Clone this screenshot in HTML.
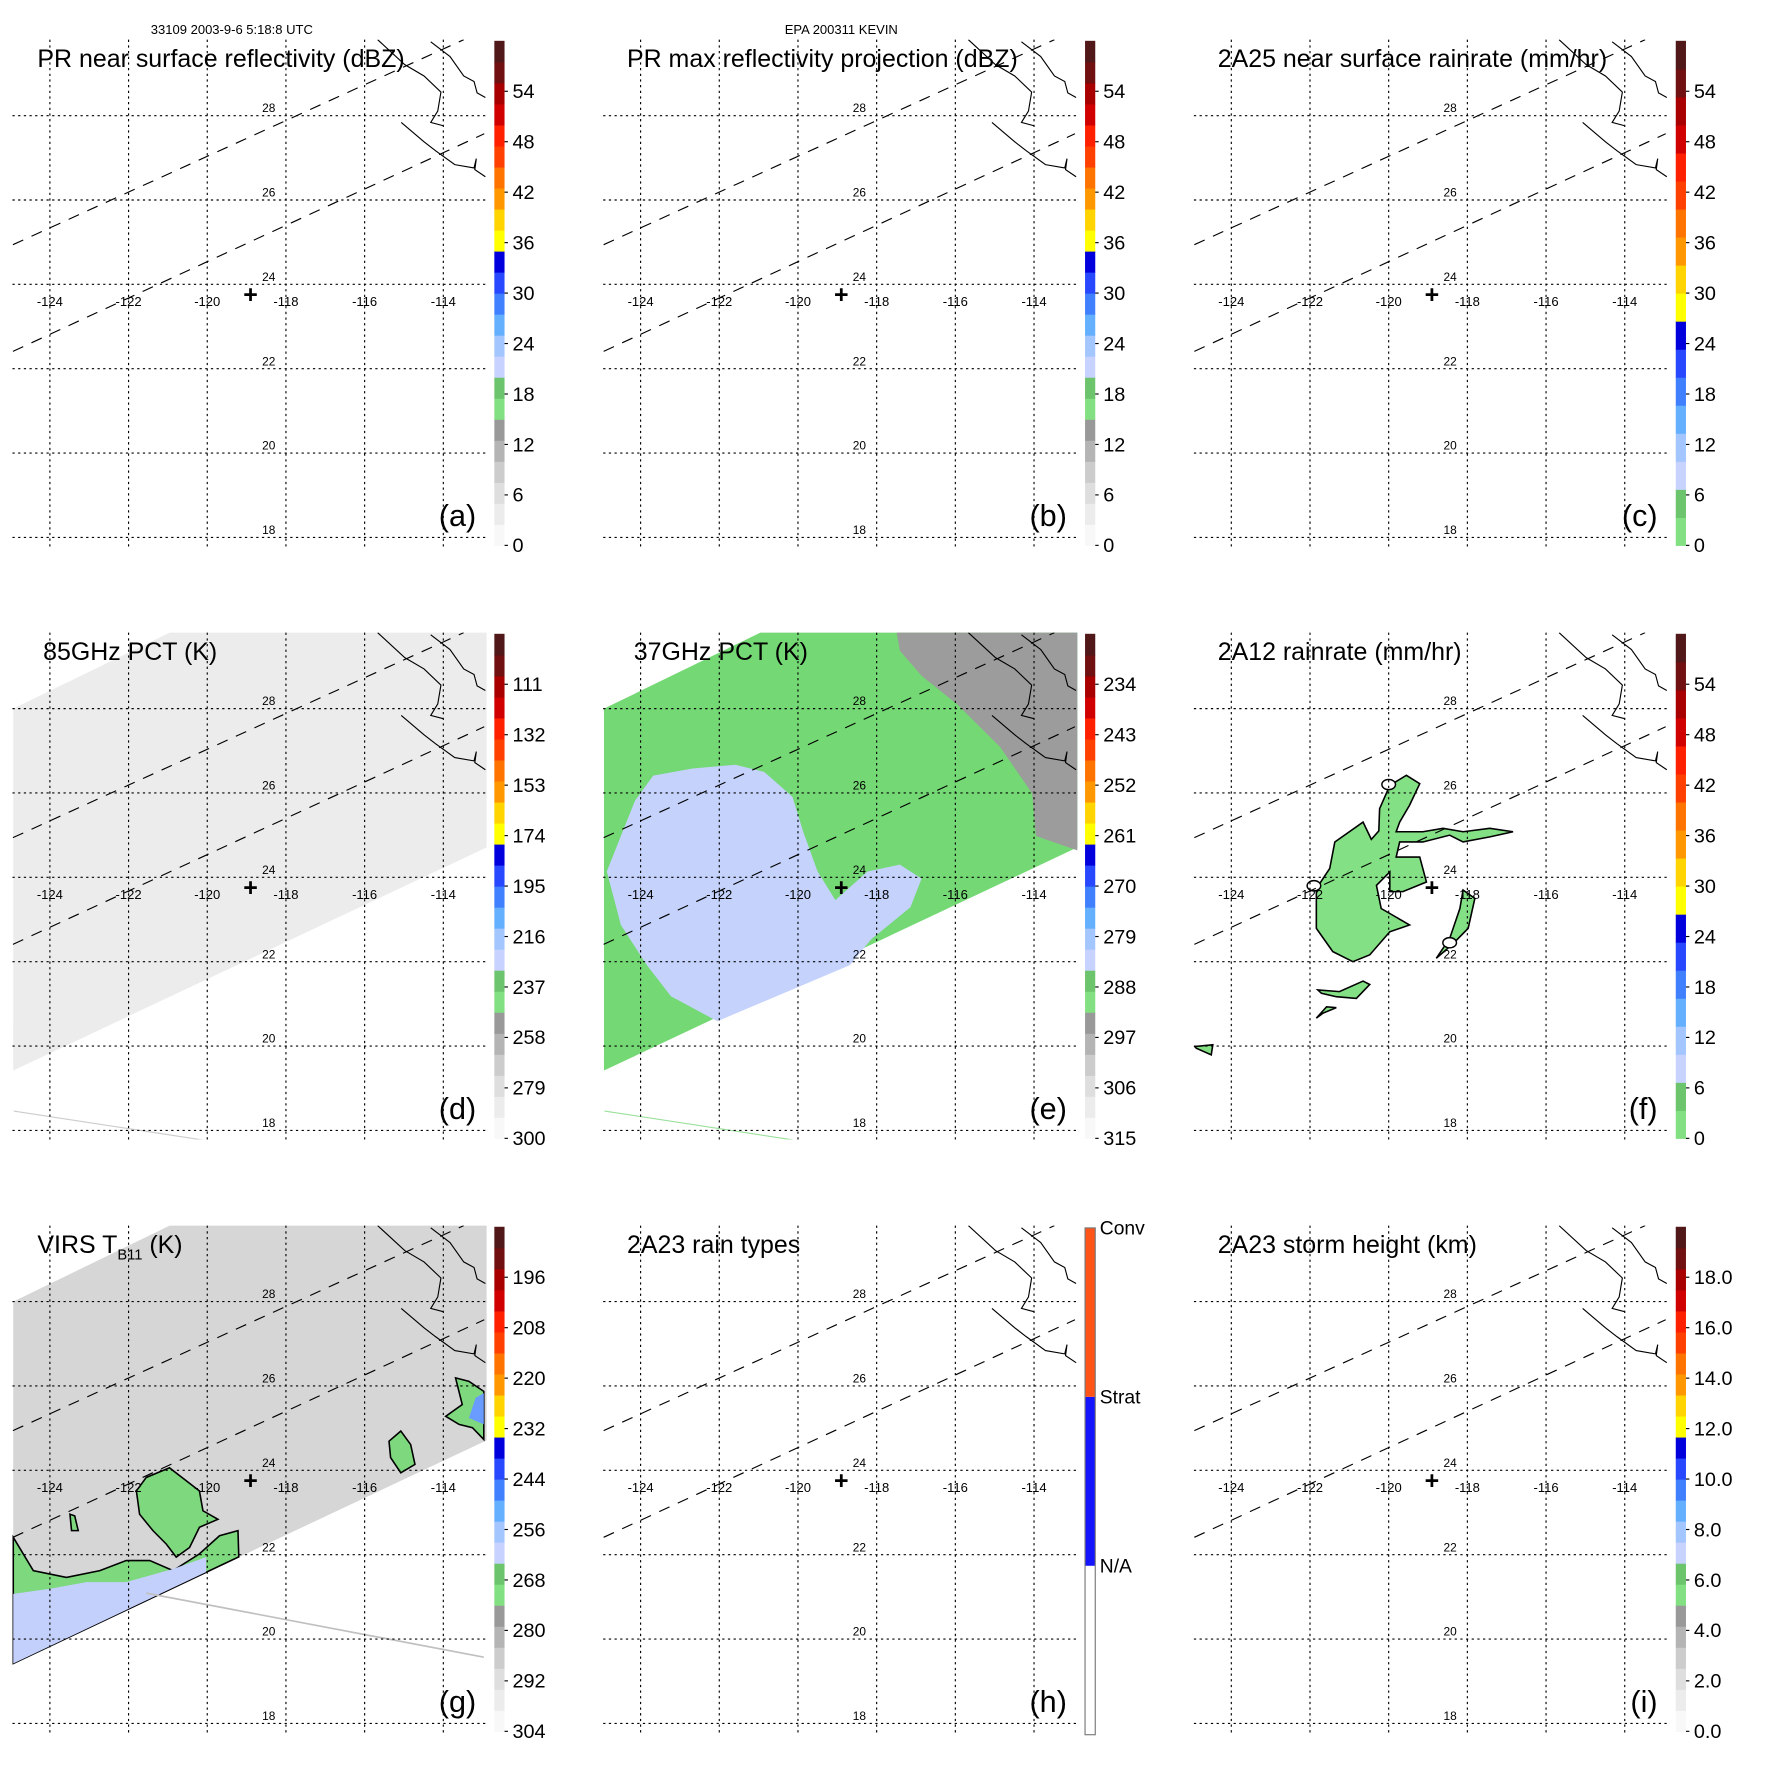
<!DOCTYPE html>
<html><head><meta charset="utf-8"><style>
html,body{margin:0;padding:0;background:#fff}
svg{display:block;font-family:"Liberation Sans",sans-serif}
</style></head><body>
<svg id="fig" width="1771" height="1771" viewBox="0 0 1562 1562" xmlns="http://www.w3.org/2000/svg">
<text x="133" y="30" font-size="11.5">33109 2003-9-6 5:18:8 UTC</text>
<text x="742" y="30" font-size="11.5" text-anchor="middle">EPA 200311 KEVIN</text>
</svg>
<script>
const lonTicks=[-124,-122,-120,-118,-116,-114];
const latTicks=[18,20,22,24,26,28];
const swath1=[[-124.94,24.94],[-113.48,29.8]];
const swath2=[[-124.94,22.41],[-112.96,27.57]];
const stormCenter=[-118.9,23.75];
const bajaCoast=[[-115.67,29.8],[-114.98,29.21],[-114.49,28.94],[-114.06,28.56],[-114.14,28.11],[-114.32,27.84],[-114.0,27.76]];
const bajaCoast2=[[-115.07,27.84],[-114.49,27.38],[-114.2,27.17],[-113.71,26.84],[-113.22,26.76],[-113.16,26.98],[-113.2,26.72],[-112.93,26.55]];
const mainlandCoast=[[-114.32,29.75],[-113.83,29.4],[-113.48,28.94],[-113.22,28.81],[-113.14,28.54],[-112.93,28.43]];
const swathArea=[[-124.93,28.0],[-120.85,29.85],[-112.9,29.85],[-112.9,24.71],[-124.93,19.42]];
const e_blue=[[-123.68,26.41],[-122.68,26.58],[-121.59,26.67],[-120.86,26.5],[-120.14,25.91],[-119.86,25.06],[-119.5,24.14],[-119.05,23.46],[-118.23,24.14],[-117.41,24.3],[-116.86,23.97],[-117.14,23.29],[-118.14,22.53],[-118.68,21.92],[-122.05,20.59],[-123.23,21.18],[-123.86,21.94],[-124.5,22.87],[-124.86,24.14],[-124.5,24.98],[-124.14,25.82]];
const e_grey=[[-117.5,29.85],[-112.9,29.85],[-112.9,24.64],[-113.95,24.98],[-114.05,25.99],[-114.86,27.09],[-115.95,28.1],[-116.86,28.78],[-117.41,29.37]];
const f_main=[[-121.37,24.84],[-120.65,25.31],[-120.44,24.9],[-120.25,25.1],[-120.23,25.63],[-119.97,26.18],[-119.55,26.42],[-119.21,26.22],[-119.47,25.71],[-119.72,25.31],[-119.81,25.08],[-119.13,25.08],[-118.62,25.16],[-118.11,25.08],[-117.43,25.16],[-116.84,25.08],[-117.43,24.96],[-118.11,24.84],[-118.45,25.0],[-119.13,24.84],[-119.72,24.84],[-119.81,24.48],[-119.21,24.48],[-119.04,23.89],[-119.64,23.66],[-119.97,23.66],[-119.97,24.13],[-120.31,23.81],[-120.19,23.26],[-119.47,22.87],[-119.97,22.71],[-120.48,22.16],[-120.91,22.0],[-121.42,22.24],[-121.84,22.79],[-121.84,23.73],[-121.5,24.21]];
const f_arc=[[-118.11,23.7],[-117.81,23.5],[-117.98,22.79],[-118.36,22.43],[-118.79,22.08],[-118.45,22.55],[-118.19,23.26]];
const f_band=[[-121.8,21.33],[-121.25,21.29],[-120.65,21.54],[-120.48,21.46],[-120.82,21.13],[-121.33,21.17],[-121.71,21.25]];
const f_small=[[-121.84,20.66],[-121.58,20.93],[-121.33,20.91],[-121.67,20.78]];
const f_far=[[-124.93,19.99],[-124.47,20.03],[-124.51,19.79],[-124.89,19.95]];
const f_rings=[[-120.0,26.2],[-121.9,23.8],[-118.45,22.45]];
const g_center=[[-121.8,23.51],[-121.55,23.83],[-120.96,24.06],[-120.53,23.75],[-120.2,23.51],[-120.11,23.04],[-119.73,22.84],[-120.2,22.65],[-120.45,22.17],[-120.79,21.94],[-121.04,22.25],[-121.38,22.57],[-121.72,22.96]];
const g_band=[[-124.93,22.41],[-124.42,21.62],[-123.58,21.46],[-122.73,21.62],[-122.06,21.86],[-121.46,21.86],[-120.87,21.62],[-120.2,22.02],[-119.69,22.45],[-119.22,22.57],[-119.2,21.95],[-124.93,19.42]];
const g_blue=[[-124.93,21.07],[-124.0,21.19],[-123.07,21.35],[-122.06,21.35],[-120.87,21.66],[-120.03,21.94],[-120.03,21.59],[-124.93,19.42]];
const g_east=[[-115.38,24.69],[-115.08,24.93],[-114.83,24.61],[-114.72,24.14],[-115.08,23.94],[-115.34,24.3]];
const g_edge=[[-113.69,26.19],[-113.35,26.11],[-112.97,25.87],[-112.97,24.73],[-113.26,25.01],[-113.6,25.09],[-113.94,25.28],[-113.52,25.56]];
const g_edgeBlue=[[-113.18,25.72],[-112.97,25.83],[-112.97,25.09],[-113.35,25.24]];
const g_west=[[-123.49,22.96],[-123.37,22.92],[-123.28,22.57],[-123.45,22.57]];
const g_track=[[-121.55,21.09],[-112.97,19.57]];
const lowTrack=[[-124.92,18.46],[-119.6,17.7]];
const stdColors=["#f8f8f8","#ececec","#dedede","#cccccc","#b4b4b4","#999999","#82e082","#6cc46c","#c8d2ff","#a4c6ff","#64b0ff","#4080ff","#2848ff","#0000dc","#ffff00","#ffd400","#ff9800","#ff7400","#ff4000","#ff2000","#d00000","#a80000","#701010","#501818"];
const rainColors=stdColors.slice(6);
const labelsA=["0","6","12","18","24","30","36","42","48","54"];
const labelsD=["300","279","258","237","216","195","174","153","132","111"];
const labelsE=["315","306","297","288","279","270","261","252","243","234"];
const labelsG=["304","292","280","268","256","244","232","220","208","196"];
const labelsI=["0.0","2.0","4.0","6.0","8.0","10.0","12.0","14.0","16.0","18.0"];
const labelsH=["N/A","Strat","Conv"];

const NS="http://www.w3.org/2000/svg";
const svg=document.getElementById('fig');
function mk(tag,attrs,parent){const e=document.createElementNS(NS,tag);for(const k in attrs)e.setAttribute(k,attrs[k]);(parent||svg).appendChild(e);return e;}
const panels=[
 {id:'a',c:0,r:0,title:'PR near surface reflectivity (dBZ)',tx:33,colors:stdColors,labels:labelsA},
 {id:'b',c:1,r:0,title:'PR max reflectivity projection (dBZ)',tx:32,colors:stdColors,labels:labelsA},
 {id:'c',c:2,r:0,title:'2A25 near surface rainrate (mm/hr)',tx:32,colors:rainColors,labels:labelsA},
 {id:'d',c:0,r:1,title:'85GHz PCT (K)',tx:38,colors:stdColors,labels:labelsD},
 {id:'e',c:1,r:1,title:'37GHz PCT (K)',tx:38,colors:stdColors,labels:labelsE},
 {id:'f',c:2,r:1,title:'2A12 rainrate (mm/hr)',tx:32,colors:rainColors,labels:labelsA},
 {id:'g',c:0,r:2,title:'VIRS',tx:33,colors:stdColors,labels:labelsG},
 {id:'h',c:1,r:2,title:'2A23 rain types',tx:32,colors:null,labels:labelsH},
 {id:'i',c:2,r:2,title:'2A23 storm height (km)',tx:32,colors:stdColors,labels:labelsI}
];
panels.forEach(p=>{
 const ox=p.c*521, oy=p.r*523;
 const X=lon=>ox+44+(lon+124)*34.7;
 const Y=lat=>oy+102+(28-lat)*37.2;
 const pts=a=>a.map(q=>X(q[0]).toFixed(1)+','+Y(q[1]).toFixed(1)).join(' ');
 const g=mk('g',{});
 
 
 const clipId='clip'+p.id;
 const cp=mk('clipPath',{id:clipId},g);
 mk('rect',{x:ox+11,y:oy+35,width:419,height:447},cp);
 const map=mk('g',{'clip-path':'url(#'+clipId+')'},g);
 
 
 function poly(a,fill,name,stroke){const e=mk('polygon',{points:pts(a),fill:fill,stroke:stroke||'none','stroke-width':stroke?1.4:0},map);return e;}
 function line(a,stroke,w,dash,name){const e=mk('polyline',{points:pts(a),fill:'none',stroke:stroke,'stroke-width':w},map);if(dash)e.setAttribute('stroke-dasharray',dash);return e;}
 if(p.id==='d'){poly(swathArea,'#ececec','swath-85ghz');line(lowTrack,'#cccccc',1,null,'track-line');}
 if(p.id==='e'){poly(swathArea,'#74d874','swath-37ghz');poly(e_blue,'#c4d2fc','cold-region');poly(e_grey,'#9c9c9c','land-region');line(lowTrack,'#9be09b',1,null,'track-line');}
 if(p.id==='f'){
  [f_main,f_arc,f_band,f_small,f_far].forEach((a,i)=>poly(a,'#84e084','rain-area-'+i,'#000'));
  f_rings.forEach((q,i)=>{const e=mk('ellipse',{cx:X(q[0]),cy:Y(q[1]),rx:6,ry:4.5,fill:'#fff',stroke:'#000','stroke-width':1.3},map);});
 }
 if(p.id==='g'){
  poly(swathArea,'#d6d6d6','swath-virs');
  poly(g_band,'#7ed87e','cold-cloud-band','#000');
  poly(g_blue,'#c4d0fc','very-cold-cloud');
  poly(g_center,'#7ed87e','cold-cloud-center','#000');
  poly(g_east,'#7ed87e','cold-cloud-east','#000');
  poly(g_edge,'#7ed87e','cold-cloud-edge','#000');
  poly(g_edgeBlue,'#6a9cff','coldest-cloud-edge');
  poly(g_west,'#7ed87e','cold-cloud-west','#000');
  line(g_track,'#c0c0c0',1.5,null,'track-line');
 }
 line(swath1,'#000',1,'10 8','swath-edge-north');
 line(swath2,'#000',1,'10 8','swath-edge-south');
 line(bajaCoast,'#000',1,null,'coastline');
 line(bajaCoast2,'#000',1,null,'coastline-south');
 line(mainlandCoast,'#000',1,null,'coastline-mainland');
 latTicks.forEach(lat=>{
  const e=mk('line',{x1:ox+11,x2:ox+428,y1:Y(lat),y2:Y(lat),stroke:'#000','stroke-width':1,'stroke-dasharray':'2 3'},g);
  
  const t=mk('text',{x:ox+237,y:Y(lat)-3,'font-size':10.5,'text-anchor':'middle'},g);t.textContent=lat;
  
 });
 lonTicks.forEach(lon=>{
  const e=mk('line',{x1:X(lon),x2:X(lon),y1:oy+35,y2:oy+482,stroke:'#000','stroke-width':1,'stroke-dasharray':'2 3'},g);
  
  const t=mk('text',{x:X(lon),y:Y(24)+19,'font-size':11.5,'text-anchor':'middle'},g);t.textContent=lon;
  
 });
 const cross=mk('text',{x:X(stormCenter[0]),y:Y(stormCenter[1])+7,'font-size':22,'font-weight':'bold','text-anchor':'middle'},g);
 cross.textContent='+';
 
 const t=mk('text',{x:ox+p.tx,y:oy+59,'font-size':22},g);
 
 if(p.id==='g'){t.innerHTML='VIRS T<tspan font-size="13" dy="6">B11</tspan><tspan dy="-6"> (K)</tspan>';}
 else t.textContent=p.title;
 const lt=mk('text',{x:ox+420,y:oy+464,'font-size':27,'text-anchor':'end'},g);lt.textContent='('+p.id+')';
 
 const cb=mk('g',{},g);
 
 const bx=ox+436,bw=9,top=oy+36,bot=oy+481,H=bot-top;
 if(p.colors){
  const n=p.colors.length;
  p.colors.forEach((c,i)=>{const r=mk('rect',{x:bx,y:bot-(i+1)*H/n,width:bw,height:H/n+0.5,fill:c},cb);});
  p.labels.forEach((l,i)=>{const y=bot-i*H/10;
   mk('line',{x1:bx+bw,x2:bx+bw+3,y1:y,y2:y,stroke:'#000','stroke-width':1},cb);
   const tx=mk('text',{x:bx+16,y:y+6,'font-size':17.5},cb);tx.textContent=l;
   });
 } else {
  const hc=['#ffffff','#1414ff','#ff5418'];
  const hb=oy+484,ht=oy+37,HH=(hb-ht)/3;
  hc.forEach((c,i)=>{const r=mk('rect',{x:bx,y:hb-(i+1)*HH,width:bw,height:HH,fill:c},cb);});
  mk('rect',{x:bx,y:ht,width:bw,height:hb-ht,fill:'none',stroke:'#777','stroke-width':1},cb);
  p.labels.forEach((l,i)=>{const y=hb-(i+1)*HH;const tx=mk('text',{x:bx+13,y:y+6,'font-size':17},cb);tx.textContent=l;
   });
 }
});
</script>
</body></html>
